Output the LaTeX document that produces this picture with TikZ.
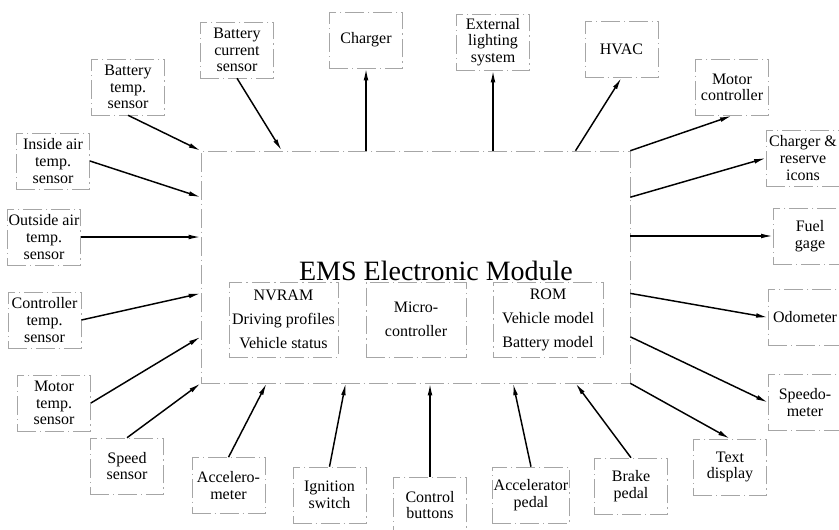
\documentclass[tikz,border=0pt]{standalone}
\usepackage{fontspec}
\setmainfont{Liberation Serif}
\usetikzlibrary{arrows.meta}

\begin{document}
\begin{tikzpicture}[x=0.75pt,y=-0.75pt,
	font=\fontsize{12}{12.5}\selectfont,
	unit/.style={draw=black!35,line width=0.4pt,dash pattern=on 14pt off 3pt on 1pt off 3pt,
	align=center,minimum width=55pt,minimum height=42pt,inner sep=1pt},
	block/.style={unit,font=\fontsize{12}{18}\selectfont,minimum height=56pt},
	link/.style={line width=1.1pt,-{Latex[length=9pt,width=3.5pt]}}]
\useasboundingbox (0,0) rectangle (839,529);
% module
\node[unit,minimum width=321.75pt,minimum height=174pt] (ems) at (415.5,267) {};
\node[font=\fontsize{21}{25}\selectfont] (title) at (436,271) {EMS Electronic Module};
\node[block,minimum width=82pt] (nvram) at (283.5,319.5) {NVRAM\\Driving profiles\\Vehicle status};
\node[block,minimum width=75pt] (micro) at (416,319.5) {Micro-\\controller};
\node[block,minimum width=82.5pt] (rom) at (548,319.5) {ROM\\Vehicle model\\Battery model};
% inputs
\node[unit] (bts) at (128,87) {Battery\\temp.\\sensor};
\node[unit] (ias) at (53,161) {Inside air\\temp.\\sensor};
\node[unit] (oats) at (44,237) {Outside air\\temp.\\sensor};
\node[unit] (cts) at (44.5,320) {Controller\\temp.\\sensor};
\node[unit] (mts) at (54,403) {Motor\\temp.\\sensor};
\node[unit] (spd) at (127,466) {Speed\\sensor};
\node[unit] (acc) at (228.5,485.5) {Accelero-\\meter};
\node[unit] (ign) at (329.5,495) {Ignition\\switch};
\node[unit] (ctl) at (430,505) {Control\\buttons};
\node[unit] (ap) at (531,495) {Accelerator\\pedal};
\node[unit] (brk) at (631,486) {Brake\\pedal};
\node[unit] (bcs) at (237,50) {Battery\\current\\sensor};
% outputs
\node[unit] (txt) at (730,467) {Text\\display};
\node[unit] (spm) at (805,402.5) {Speedo-\\meter};
\node[unit] (odo) at (805,317.5) {Odometer};
\node[unit] (fuel) at (810,236) {Fuel\\gage};
\node[unit] (ci) at (803,158) {Charger \&\\reserve\\icons};
\node[unit] (mc) at (732,87.5) {Motor\\controller};
\node[unit] (hvac) at (621.5,49.5) {HVAC};
\node[unit] (ext) at (493,42) {External\\lighting\\system};
\node[unit] (chg) at (366,40) {Charger};

\draw[link] (bts.south) -- (ems.north west);
\draw[link] (ias.east) -- (ems.162);
\draw[link] (oats.east) -- (oats.east -| ems.west);
\draw[link] (cts.east) -- (ems.187);
\draw[link] (mts.east) -- (ems.198);
\draw[link] (spd.north) -- (ems.south west);
\draw[link] (acc.north) -- (ems.218);
\draw[link] (ign.north) -- (ems.239);
\draw[link] (ctl.north) -- (ctl.north |- ems.south);
\draw[link] (ap.north) -- (ems.310);
\draw[link] (brk.north) -- (ems.324);
\draw[link] (bcs.south) -- (ems.139);

\draw[link] (ems.south east) -- (txt.north);
\draw[link] (ems.342) -- (spm.west);
\draw[link] (ems.353) -- (odo.west);
\draw[link] (fuel.west -| ems.east) -- (fuel.west);
\draw[link] (ems.18) -- (ci.west);
\draw[link] (ems.north east) -- (mc.south);
\draw[link] (ems.36) -- (hvac.south);
\draw[link] (ext.south |- ems.north) -- (ext.south);
\draw[link] (chg.south |- ems.north) -- (chg.south);
\end{tikzpicture}
\end{document}
